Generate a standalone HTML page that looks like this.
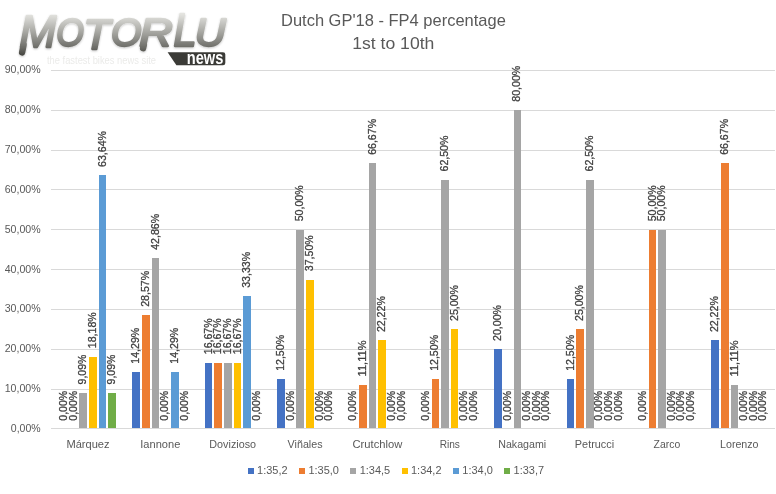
<!DOCTYPE html>
<html lang="en"><head><meta charset="utf-8"><title>Dutch GP'18 - FP4 percentage</title>
<style>
html,body{margin:0;padding:0;background:#fff;overflow:hidden}
svg{display:block;will-change:transform}
svg text{font-family:"Liberation Sans",sans-serif}
</style></head><body>
<svg width="776" height="494" viewBox="0 0 776 494">
<rect width="776" height="494" fill="#fff"/>
<g shape-rendering="crispEdges" fill="#D9D9D9">
<rect x="51" y="428" width="724" height="1"/>
<rect x="51" y="389" width="724" height="1"/>
<rect x="51" y="349" width="724" height="1"/>
<rect x="51" y="309" width="724" height="1"/>
<rect x="51" y="269" width="724" height="1"/>
<rect x="51" y="229" width="724" height="1"/>
<rect x="51" y="189" width="724" height="1"/>
<rect x="51" y="150" width="724" height="1"/>
<rect x="51" y="110" width="724" height="1"/>
<rect x="51" y="70" width="724" height="1"/>
</g>
<g font-size="10.7" fill="#595959" text-anchor="end">
<text x="40.6" y="432" textLength="29.8" lengthAdjust="spacingAndGlyphs">0,00%</text>
<text x="40.6" y="392" textLength="35.9" lengthAdjust="spacingAndGlyphs">10,00%</text>
<text x="40.6" y="352" textLength="35.9" lengthAdjust="spacingAndGlyphs">20,00%</text>
<text x="40.6" y="312" textLength="35.9" lengthAdjust="spacingAndGlyphs">30,00%</text>
<text x="40.6" y="273" textLength="35.9" lengthAdjust="spacingAndGlyphs">40,00%</text>
<text x="40.6" y="233" textLength="35.9" lengthAdjust="spacingAndGlyphs">50,00%</text>
<text x="40.6" y="193" textLength="35.9" lengthAdjust="spacingAndGlyphs">60,00%</text>
<text x="40.6" y="153" textLength="35.9" lengthAdjust="spacingAndGlyphs">70,00%</text>
<text x="40.6" y="113" textLength="35.9" lengthAdjust="spacingAndGlyphs">80,00%</text>
<text x="40.6" y="73" textLength="35.9" lengthAdjust="spacingAndGlyphs">90,00%</text>
</g>
<g shape-rendering="crispEdges">
<rect x="79" y="393" width="8" height="35" fill="#A5A5A5"/>
<rect x="89" y="357" width="8" height="71" fill="#FFC000"/>
<rect x="99" y="175" width="7" height="253" fill="#5B9BD5"/>
<rect x="108" y="393" width="8" height="35" fill="#70AD47"/>
<rect x="132" y="372" width="8" height="56" fill="#4472C4"/>
<rect x="142" y="315" width="8" height="113" fill="#ED7D31"/>
<rect x="152" y="258" width="7" height="170" fill="#A5A5A5"/>
<rect x="171" y="372" width="8" height="56" fill="#5B9BD5"/>
<rect x="205" y="363" width="7" height="65" fill="#4472C4"/>
<rect x="214" y="363" width="8" height="65" fill="#ED7D31"/>
<rect x="224" y="363" width="8" height="65" fill="#A5A5A5"/>
<rect x="234" y="363" width="7" height="65" fill="#FFC000"/>
<rect x="243" y="296" width="8" height="132" fill="#5B9BD5"/>
<rect x="277" y="379" width="8" height="49" fill="#4472C4"/>
<rect x="296" y="230" width="8" height="198" fill="#A5A5A5"/>
<rect x="306" y="280" width="8" height="148" fill="#FFC000"/>
<rect x="359" y="385" width="8" height="43" fill="#ED7D31"/>
<rect x="369" y="163" width="7" height="265" fill="#A5A5A5"/>
<rect x="378" y="340" width="8" height="88" fill="#FFC000"/>
<rect x="432" y="379" width="7" height="49" fill="#ED7D31"/>
<rect x="441" y="180" width="8" height="248" fill="#A5A5A5"/>
<rect x="451" y="329" width="7" height="99" fill="#FFC000"/>
<rect x="494" y="349" width="8" height="79" fill="#4472C4"/>
<rect x="514" y="110" width="7" height="318" fill="#A5A5A5"/>
<rect x="567" y="379" width="7" height="49" fill="#4472C4"/>
<rect x="576" y="329" width="8" height="99" fill="#ED7D31"/>
<rect x="586" y="180" width="8" height="248" fill="#A5A5A5"/>
<rect x="649" y="230" width="7" height="198" fill="#ED7D31"/>
<rect x="658" y="230" width="8" height="198" fill="#A5A5A5"/>
<rect x="711" y="340" width="8" height="88" fill="#4472C4"/>
<rect x="721" y="163" width="8" height="265" fill="#ED7D31"/>
<rect x="731" y="385" width="7" height="43" fill="#A5A5A5"/>
</g>
<g font-size="10.7" fill="#404040" stroke="#404040" stroke-width="0.3">
<text transform="translate(67.00,420.70) rotate(-90)" textLength="29.8" lengthAdjust="spacingAndGlyphs">0,00%</text>
<text transform="translate(76.63,420.70) rotate(-90)" textLength="29.8" lengthAdjust="spacingAndGlyphs">0,00%</text>
<text transform="translate(86.27,384.45) rotate(-90)" textLength="29.8" lengthAdjust="spacingAndGlyphs">9,09%</text>
<text transform="translate(95.90,348.21) rotate(-90)" textLength="35.9" lengthAdjust="spacingAndGlyphs">18,18%</text>
<text transform="translate(105.53,166.94) rotate(-90)" textLength="35.9" lengthAdjust="spacingAndGlyphs">63,64%</text>
<text transform="translate(115.17,384.45) rotate(-90)" textLength="29.8" lengthAdjust="spacingAndGlyphs">9,09%</text>
<text transform="translate(139.36,363.72) rotate(-90)" textLength="35.9" lengthAdjust="spacingAndGlyphs">14,29%</text>
<text transform="translate(149.00,306.78) rotate(-90)" textLength="35.9" lengthAdjust="spacingAndGlyphs">28,57%</text>
<text transform="translate(158.63,249.80) rotate(-90)" textLength="35.9" lengthAdjust="spacingAndGlyphs">42,86%</text>
<text transform="translate(168.26,420.70) rotate(-90)" textLength="29.8" lengthAdjust="spacingAndGlyphs">0,00%</text>
<text transform="translate(177.90,363.72) rotate(-90)" textLength="35.9" lengthAdjust="spacingAndGlyphs">14,29%</text>
<text transform="translate(187.53,420.70) rotate(-90)" textLength="29.8" lengthAdjust="spacingAndGlyphs">0,00%</text>
<text transform="translate(211.73,354.23) rotate(-90)" textLength="35.9" lengthAdjust="spacingAndGlyphs">16,67%</text>
<text transform="translate(221.36,354.23) rotate(-90)" textLength="35.9" lengthAdjust="spacingAndGlyphs">16,67%</text>
<text transform="translate(231.00,354.23) rotate(-90)" textLength="35.9" lengthAdjust="spacingAndGlyphs">16,67%</text>
<text transform="translate(240.63,354.23) rotate(-90)" textLength="35.9" lengthAdjust="spacingAndGlyphs">16,67%</text>
<text transform="translate(250.26,287.80) rotate(-90)" textLength="35.9" lengthAdjust="spacingAndGlyphs">33,33%</text>
<text transform="translate(259.90,420.70) rotate(-90)" textLength="29.8" lengthAdjust="spacingAndGlyphs">0,00%</text>
<text transform="translate(284.09,370.86) rotate(-90)" textLength="35.9" lengthAdjust="spacingAndGlyphs">12,50%</text>
<text transform="translate(293.73,420.70) rotate(-90)" textLength="29.8" lengthAdjust="spacingAndGlyphs">0,00%</text>
<text transform="translate(303.36,221.33) rotate(-90)" textLength="35.9" lengthAdjust="spacingAndGlyphs">50,00%</text>
<text transform="translate(312.99,271.17) rotate(-90)" textLength="35.9" lengthAdjust="spacingAndGlyphs">37,50%</text>
<text transform="translate(322.63,420.70) rotate(-90)" textLength="29.8" lengthAdjust="spacingAndGlyphs">0,00%</text>
<text transform="translate(332.26,420.70) rotate(-90)" textLength="29.8" lengthAdjust="spacingAndGlyphs">0,00%</text>
<text transform="translate(356.46,420.70) rotate(-90)" textLength="29.8" lengthAdjust="spacingAndGlyphs">0,00%</text>
<text transform="translate(366.09,376.40) rotate(-90)" textLength="35.9" lengthAdjust="spacingAndGlyphs">11,11%</text>
<text transform="translate(375.73,154.85) rotate(-90)" textLength="35.9" lengthAdjust="spacingAndGlyphs">66,67%</text>
<text transform="translate(385.36,332.10) rotate(-90)" textLength="35.9" lengthAdjust="spacingAndGlyphs">22,22%</text>
<text transform="translate(394.99,420.70) rotate(-90)" textLength="29.8" lengthAdjust="spacingAndGlyphs">0,00%</text>
<text transform="translate(404.63,420.70) rotate(-90)" textLength="29.8" lengthAdjust="spacingAndGlyphs">0,00%</text>
<text transform="translate(428.82,420.70) rotate(-90)" textLength="29.8" lengthAdjust="spacingAndGlyphs">0,00%</text>
<text transform="translate(438.46,370.86) rotate(-90)" textLength="35.9" lengthAdjust="spacingAndGlyphs">12,50%</text>
<text transform="translate(448.09,171.48) rotate(-90)" textLength="35.9" lengthAdjust="spacingAndGlyphs">62,50%</text>
<text transform="translate(457.72,321.01) rotate(-90)" textLength="35.9" lengthAdjust="spacingAndGlyphs">25,00%</text>
<text transform="translate(467.36,420.70) rotate(-90)" textLength="29.8" lengthAdjust="spacingAndGlyphs">0,00%</text>
<text transform="translate(476.99,420.70) rotate(-90)" textLength="29.8" lengthAdjust="spacingAndGlyphs">0,00%</text>
<text transform="translate(501.19,340.95) rotate(-90)" textLength="35.9" lengthAdjust="spacingAndGlyphs">20,00%</text>
<text transform="translate(510.82,420.70) rotate(-90)" textLength="29.8" lengthAdjust="spacingAndGlyphs">0,00%</text>
<text transform="translate(520.46,101.70) rotate(-90)" textLength="35.9" lengthAdjust="spacingAndGlyphs">80,00%</text>
<text transform="translate(530.09,420.70) rotate(-90)" textLength="29.8" lengthAdjust="spacingAndGlyphs">0,00%</text>
<text transform="translate(539.72,420.70) rotate(-90)" textLength="29.8" lengthAdjust="spacingAndGlyphs">0,00%</text>
<text transform="translate(549.36,420.70) rotate(-90)" textLength="29.8" lengthAdjust="spacingAndGlyphs">0,00%</text>
<text transform="translate(573.55,370.86) rotate(-90)" textLength="35.9" lengthAdjust="spacingAndGlyphs">12,50%</text>
<text transform="translate(583.19,321.01) rotate(-90)" textLength="35.9" lengthAdjust="spacingAndGlyphs">25,00%</text>
<text transform="translate(592.82,171.48) rotate(-90)" textLength="35.9" lengthAdjust="spacingAndGlyphs">62,50%</text>
<text transform="translate(602.45,420.70) rotate(-90)" textLength="29.8" lengthAdjust="spacingAndGlyphs">0,00%</text>
<text transform="translate(612.09,420.70) rotate(-90)" textLength="29.8" lengthAdjust="spacingAndGlyphs">0,00%</text>
<text transform="translate(621.72,420.70) rotate(-90)" textLength="29.8" lengthAdjust="spacingAndGlyphs">0,00%</text>
<text transform="translate(645.92,420.70) rotate(-90)" textLength="29.8" lengthAdjust="spacingAndGlyphs">0,00%</text>
<text transform="translate(655.55,221.33) rotate(-90)" textLength="35.9" lengthAdjust="spacingAndGlyphs">50,00%</text>
<text transform="translate(665.19,221.33) rotate(-90)" textLength="35.9" lengthAdjust="spacingAndGlyphs">50,00%</text>
<text transform="translate(674.82,420.70) rotate(-90)" textLength="29.8" lengthAdjust="spacingAndGlyphs">0,00%</text>
<text transform="translate(684.45,420.70) rotate(-90)" textLength="29.8" lengthAdjust="spacingAndGlyphs">0,00%</text>
<text transform="translate(694.09,420.70) rotate(-90)" textLength="29.8" lengthAdjust="spacingAndGlyphs">0,00%</text>
<text transform="translate(718.28,332.10) rotate(-90)" textLength="35.9" lengthAdjust="spacingAndGlyphs">22,22%</text>
<text transform="translate(727.92,154.85) rotate(-90)" textLength="35.9" lengthAdjust="spacingAndGlyphs">66,67%</text>
<text transform="translate(737.55,376.40) rotate(-90)" textLength="35.9" lengthAdjust="spacingAndGlyphs">11,11%</text>
<text transform="translate(747.18,420.70) rotate(-90)" textLength="29.8" lengthAdjust="spacingAndGlyphs">0,00%</text>
<text transform="translate(756.82,420.70) rotate(-90)" textLength="29.8" lengthAdjust="spacingAndGlyphs">0,00%</text>
<text transform="translate(766.45,420.70) rotate(-90)" textLength="29.8" lengthAdjust="spacingAndGlyphs">0,00%</text>
</g>
<g font-size="10.7" fill="#595959" text-anchor="middle">
<text x="88.0" y="448.2" textLength="43.2" lengthAdjust="spacingAndGlyphs">Márquez</text>
<text x="160.3" y="448.2" textLength="40.0" lengthAdjust="spacingAndGlyphs">Iannone</text>
<text x="232.7" y="448.2" textLength="46.7" lengthAdjust="spacingAndGlyphs">Dovizioso</text>
<text x="305.1" y="448.2" textLength="35.0" lengthAdjust="spacingAndGlyphs">Viñales</text>
<text x="377.4" y="448.2" textLength="49.8" lengthAdjust="spacingAndGlyphs">Crutchlow</text>
<text x="449.8" y="448.2" textLength="20.3" lengthAdjust="spacingAndGlyphs">Rins</text>
<text x="522.2" y="448.2" textLength="48.0" lengthAdjust="spacingAndGlyphs">Nakagami</text>
<text x="594.5" y="448.2" textLength="39.3" lengthAdjust="spacingAndGlyphs">Petrucci</text>
<text x="666.9" y="448.2" textLength="26.6" lengthAdjust="spacingAndGlyphs">Zarco</text>
<text x="739.3" y="448.2" textLength="38.5" lengthAdjust="spacingAndGlyphs">Lorenzo</text>
</g>
<g font-size="10.7" fill="#595959">
<rect x="248" y="468" width="6" height="6" fill="#4472C4" shape-rendering="crispEdges"/>
<text x="257.1" y="474.3" textLength="30.5" lengthAdjust="spacingAndGlyphs">1:35,2</text>
<rect x="299" y="468" width="6" height="6" fill="#ED7D31" shape-rendering="crispEdges"/>
<text x="308.4" y="474.3" textLength="30.5" lengthAdjust="spacingAndGlyphs">1:35,0</text>
<rect x="350" y="468" width="6" height="6" fill="#A5A5A5" shape-rendering="crispEdges"/>
<text x="359.7" y="474.3" textLength="30.5" lengthAdjust="spacingAndGlyphs">1:34,5</text>
<rect x="402" y="468" width="6" height="6" fill="#FFC000" shape-rendering="crispEdges"/>
<text x="411.0" y="474.3" textLength="30.5" lengthAdjust="spacingAndGlyphs">1:34,2</text>
<rect x="453" y="468" width="6" height="6" fill="#5B9BD5" shape-rendering="crispEdges"/>
<text x="462.3" y="474.3" textLength="30.5" lengthAdjust="spacingAndGlyphs">1:34,0</text>
<rect x="504" y="468" width="6" height="6" fill="#70AD47" shape-rendering="crispEdges"/>
<text x="513.6" y="474.3" textLength="30.5" lengthAdjust="spacingAndGlyphs">1:33,7</text>
</g>
<g font-size="16.2" fill="#595959" text-anchor="middle">
<text x="393.4" y="25.7" textLength="224.8" lengthAdjust="spacingAndGlyphs">Dutch GP'18 - FP4 percentage</text>
<text x="393.3" y="48.9" textLength="82.2" lengthAdjust="spacingAndGlyphs">1st to 10th</text>
</g>
<defs>
<linearGradient id="lg" gradientUnits="userSpaceOnUse" x1="0" y1="14" x2="0" y2="56">
<stop offset="0" stop-color="#e4e4e0"/><stop offset="0.45" stop-color="#a4a49f"/><stop offset="0.8" stop-color="#6c6c67"/><stop offset="1" stop-color="#42423d"/>
</linearGradient>
<filter id="sh" x="-5%" y="-20%" width="110%" height="150%"><feGaussianBlur in="SourceAlpha" stdDeviation="0.9"/><feOffset dy="0.8"/><feComponentTransfer><feFuncA type="linear" slope="0.22"/></feComponentTransfer><feMerge><feMergeNode/><feMergeNode in="SourceGraphic"/></feMerge></filter>
</defs>
<g filter="url(#sh)"><path d="M23.6 45 L22.1 52.4 M143.9 44.5 L143.1 48.2" stroke="url(#lg)" stroke-width="6.4" stroke-linecap="round" fill="none"/>
<text font-weight="bold" font-style="italic" fill="url(#lg)"><tspan x="19.50" y="46.65" font-size="43.75" textLength="36.65" lengthAdjust="spacingAndGlyphs" font-weight="normal" stroke="url(#lg)" stroke-width="2.3" stroke-linejoin="round">M</tspan><tspan x="56.33" y="45.95" font-size="38.08" textLength="27.61" lengthAdjust="spacingAndGlyphs" font-weight="normal" stroke="url(#lg)" stroke-width="2.3" stroke-linejoin="round">O</tspan><tspan x="83.32" y="49.45" font-size="43.17" textLength="26.75" lengthAdjust="spacingAndGlyphs" font-weight="normal" stroke="url(#lg)" stroke-width="2.3" stroke-linejoin="round">T</tspan><tspan x="110.92" y="45.95" font-size="38.08" textLength="30.52" lengthAdjust="spacingAndGlyphs" font-weight="normal" stroke="url(#lg)" stroke-width="2.3" stroke-linejoin="round">O</tspan><tspan x="139.23" y="46.15" font-size="38.37" textLength="33.45" lengthAdjust="spacingAndGlyphs" font-weight="normal" stroke="url(#lg)" stroke-width="2.3" stroke-linejoin="round">R</tspan><tspan x="173.57" y="46.05" font-size="47.09" textLength="23.07" lengthAdjust="spacingAndGlyphs" font-weight="normal" stroke="url(#lg)" stroke-width="2.3" stroke-linejoin="round">L</tspan><tspan x="194.85" y="46.05" font-size="38.23" textLength="30.89" lengthAdjust="spacingAndGlyphs" font-weight="normal" stroke="url(#lg)" stroke-width="2.3" stroke-linejoin="round">U</tspan></text></g>
<text x="47" y="63.9" font-size="10.5" fill="#ebebe9" textLength="109" lengthAdjust="spacingAndGlyphs">the fastest bikes news site</text>
<path d="M167.6 52.2 H223 Q225.3 52.2 225.3 54.5 V63 Q225.3 65.3 223 65.3 H176.4 Z" fill="#3b3b37"/>
<text x="186.7" y="63.8" font-size="18" font-weight="bold" fill="#fff" textLength="36.6" lengthAdjust="spacingAndGlyphs">news</text>

</svg>
</body></html>
